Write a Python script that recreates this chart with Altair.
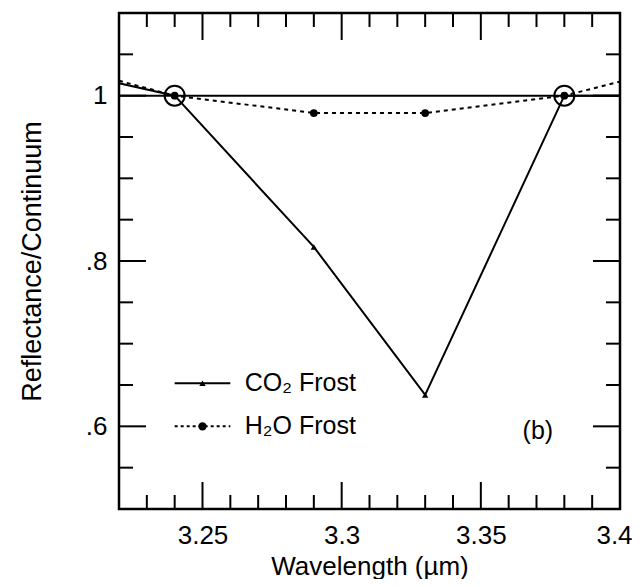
import altair as alt
import pandas as pd

# ---- data ----
co2_x = [3.22, 3.24, 3.29, 3.33, 3.38, 3.40]
co2_y = [1.015, 1.000, 0.817, 0.638, 1.000, 1.000]
co2_marker_x = [3.29, 3.33]
co2_marker_y = [0.817, 0.638]

h2o_x = [3.22, 3.24, 3.29, 3.33, 3.38, 3.40]
h2o_y = [1.018, 1.000, 0.979, 0.979, 1.000, 1.017]
h2o_marker_x = [3.24, 3.29, 3.33, 3.38]
h2o_marker_y = [1.000, 0.979, 0.979, 1.000]

continuum_x = [3.22, 3.40]
continuum_y = [1.0, 1.0]

anchor_x = [3.24, 3.38]
anchor_y = [1.0, 1.0]

x_major = [3.25, 3.30, 3.35, 3.40]
x_minor = [3.23, 3.24, 3.26, 3.27, 3.28, 3.29, 3.31, 3.32, 3.33, 3.34,
           3.36, 3.37, 3.38, 3.39]
y_major = [0.6, 0.8, 1.0]
y_minor = [0.55, 0.65, 0.70, 0.75, 0.85, 0.90, 0.95, 1.05]

legend_labels = ["CO\u2082 Frost", "H\u2082O Frost"]
legend_y = [0.652, 0.600]
legend_x0 = 3.240
legend_x1 = 3.260
legend_xm = 3.250
legend_text_x = 3.2652
panel_label = "(b)"
panel_x = 3.3705
panel_y = 0.594

W, H = 501, 496
FONT = "Liberation Sans"

xs = alt.Scale(domain=[3.22, 3.40], nice=False, zero=False)
ys = alt.Scale(domain=[0.5, 1.1], nice=False, zero=False)

x_axis = alt.Axis(values=x_major, format=".3~f", title="Wavelength (\u00b5m)",
                  ticks=False, tickSize=0, domain=False, grid=False,
                  labelFlush=False,
                  labelOffset={"condition": {"test": "datum.value > 3.39", "value": -6},
                               "value": 0},
                  labelFontSize=26, labelPadding=13, titleFontSize=26,
                  titlePadding=5, labelFont=FONT, titleFont=FONT,
                  labelColor="black", titleColor="black", titleFontWeight="normal")
y_axis = alt.Axis(values=y_major,
                  labelExpr="datum.value == 1 ? '1' : replace(format(datum.value, '.1f'), '0.', '.')",
                  title="Reflectance/Continuum",
                  ticks=False, tickSize=0, domain=False, grid=False,
                  labelFlush=False,
                  labelFontSize=26, labelPadding=12, titleFontSize=27,
                  titlePadding=39, labelFont=FONT, titleFont=FONT,
                  labelColor="black", titleColor="black", titleFontWeight="normal")

X = alt.X("x:Q", scale=xs, axis=x_axis)
Y = alt.Y("y:Q", scale=ys, axis=y_axis)

co2_df = pd.DataFrame({"x": co2_x, "y": co2_y})
co2m_df = pd.DataFrame({"x": co2_marker_x, "y": co2_marker_y})
h2o_df = pd.DataFrame({"x": h2o_x, "y": h2o_y})
h2om_df = pd.DataFrame({"x": h2o_marker_x, "y": h2o_marker_y})
cont_df = pd.DataFrame({"x": continuum_x, "y": continuum_y})
anc_df = pd.DataFrame({"x": anchor_x, "y": anchor_y})

cont = alt.Chart(cont_df).mark_line(color="black", strokeWidth=2).encode(x=X, y=Y)
co2_line = alt.Chart(co2_df).mark_line(color="black", strokeWidth=2).encode(x=X, y=Y)
co2_pts = alt.Chart(co2m_df).mark_point(shape="triangle-up", filled=True, color="black",
                                        size=40, opacity=1).encode(x=X, y=Y)
h2o_line = alt.Chart(h2o_df).mark_line(color="black", strokeWidth=2,
                                       strokeDash=[4, 4]).encode(x=X, y=Y)
h2o_pts = alt.Chart(h2om_df).mark_point(shape="circle", filled=True, color="black",
                                        size=60, opacity=1).encode(x=X, y=Y)
anchors = alt.Chart(anc_df).mark_point(shape="circle", filled=False, color="black",
                                       size=400, strokeWidth=2, opacity=1).encode(x=X, y=Y)

# inward ticks
xmaj_df = pd.DataFrame({"x": x_major})
xmin_df = pd.DataFrame({"x": x_minor})
ymaj_df = pd.DataFrame({"y": y_major})
ymin_df = pd.DataFrame({"y": y_minor})
MAJ, MIN = 27, 14
tk = dict(color="black", strokeWidth=2)
ticks = [
    alt.Chart(xmaj_df).mark_rule(**tk).encode(x=X, y=alt.value(H), y2=alt.value(H - MAJ)),
    alt.Chart(xmin_df).mark_rule(**tk).encode(x=X, y=alt.value(H), y2=alt.value(H - MIN)),
    alt.Chart(xmaj_df).mark_rule(**tk).encode(x=X, y=alt.value(0), y2=alt.value(MAJ)),
    alt.Chart(xmin_df).mark_rule(**tk).encode(x=X, y=alt.value(0), y2=alt.value(MIN)),
    alt.Chart(ymaj_df).mark_rule(**tk).encode(y=Y, x=alt.value(0), x2=alt.value(MAJ)),
    alt.Chart(ymin_df).mark_rule(**tk).encode(y=Y, x=alt.value(0), x2=alt.value(MIN)),
    alt.Chart(ymaj_df).mark_rule(**tk).encode(y=Y, x=alt.value(W), x2=alt.value(W - MAJ)),
    alt.Chart(ymin_df).mark_rule(**tk).encode(y=Y, x=alt.value(W), x2=alt.value(W - MIN)),
]

# legend
leg_line_df = pd.DataFrame({
    "x": [legend_x0, legend_x1], "y": [legend_y[0], legend_y[0]],
})
leg_line2_df = pd.DataFrame({
    "x": [legend_x0, legend_x1], "y": [legend_y[1], legend_y[1]],
})
leg_co2 = alt.Chart(leg_line_df).mark_line(color="black", strokeWidth=2).encode(x=X, y=Y)
leg_h2o = alt.Chart(leg_line2_df).mark_line(color="black", strokeWidth=2,
                                            strokeDash=[3, 3]).encode(x=X, y=Y)
leg_co2_pt = alt.Chart(pd.DataFrame({"x": [legend_xm], "y": [legend_y[0]]})).mark_point(
    shape="triangle-up", filled=True, color="black", size=40, opacity=1).encode(x=X, y=Y)
leg_h2o_pt = alt.Chart(pd.DataFrame({"x": [legend_xm], "y": [legend_y[1]]})).mark_point(
    shape="circle", filled=True, color="black", size=70, opacity=1).encode(x=X, y=Y)
leg_text = alt.Chart(pd.DataFrame({"x": [legend_text_x] * 2, "y": legend_y,
                                   "t": legend_labels})).mark_text(
    align="left", baseline="middle", font=FONT, fontSize=25, color="black").encode(
    x=X, y=Y, text="t:N")
panel = alt.Chart(pd.DataFrame({"x": [panel_x], "y": [panel_y], "t": [panel_label]})).mark_text(
    align="center", baseline="middle", font=FONT, fontSize=25, color="black").encode(
    x=X, y=Y, text="t:N")

chart = alt.layer(
    cont, co2_line, h2o_line, co2_pts, h2o_pts, anchors, *ticks,
    leg_co2, leg_h2o, leg_co2_pt, leg_h2o_pt, leg_text, panel
).properties(
    width=W, height=H,
    autosize=alt.AutoSizeParams(type="none"),
    padding={"left": 111, "top": 5, "right": 12, "bottom": 70},
    background="white",
).configure_view(stroke="black", strokeWidth=2.5)

chart.save("out.html", embed_options={"renderer": "svg", "actions": False})
